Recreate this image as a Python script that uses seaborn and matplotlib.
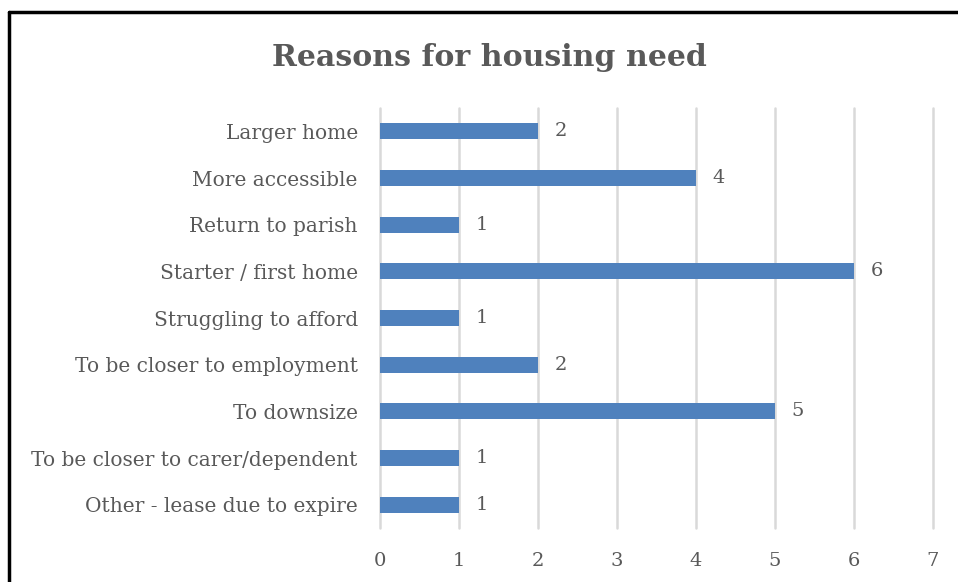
import matplotlib
matplotlib.use("Agg")
import matplotlib.pyplot as plt
import seaborn as sns
import pandas as pd
from matplotlib.lines import Line2D

categories = ["Larger home", "More accessible", "Return to parish", "Starter / first home",
              "Struggling to afford", "To be closer to employment", "To downsize",
              "To be closer to carer/dependent", "Other - lease due to expire"]
values = [2, 4, 1, 6, 1, 2, 5, 1, 1]
x_ticks = [0, 1, 2, 3, 4, 5, 6, 7]
title = "Reasons for housing need"

sns.set_theme(style="white")
plt.rcParams['font.family'] = ['DejaVu Serif']

df = pd.DataFrame({"reason": categories, "count": values})

fig = plt.figure(figsize=(9.58, 5.82), dpi=100)
ax = fig.add_axes([380/958, 1-528/582, (933-380)/958, (528-108)/582])

sns.barplot(data=df, y="reason", x="count", orient="h", color="#4F81BD",
            saturation=1, width=0.34, linewidth=0, ax=ax)

ax.set_xlim(0, 7)
ax.set_ylim(8.5, -0.5)
ax.set_xticks(x_ticks)
ax.set_xlabel("")
ax.set_ylabel("")
ax.grid(axis="x", color="#d9d9d9", linewidth=1.8)
ax.set_axisbelow(True)
for gl in ax.get_xgridlines():
    gl.set_clip_on(False)
for s in ax.spines.values():
    s.set_visible(False)
ax.tick_params(axis="x", length=0, pad=17, labelsize=14, labelcolor="#595959")
ax.tick_params(axis="y", length=0, pad=16, labelsize=14.5, labelcolor="#595959")

for i, v in enumerate(values):
    ax.annotate(str(v), xy=(v, i), xytext=(12, 0), textcoords="offset points",
                ha="left", va="center", fontsize=14, color="#595959")

fig.text(489/958, 1-57/582, title, ha="center", va="center", fontsize=21.6,
         fontweight="bold", color="#595959")

# cropped border around chart area
fig.add_artist(Line2D([9/958, 9/958], [0, 1-12/582], transform=fig.transFigure,
                      color="black", linewidth=2.5))
fig.add_artist(Line2D([9/958, 1], [1-12/582, 1-12/582], transform=fig.transFigure,
                      color="black", linewidth=2.5))

fig.savefig("out.png", dpi=100)
